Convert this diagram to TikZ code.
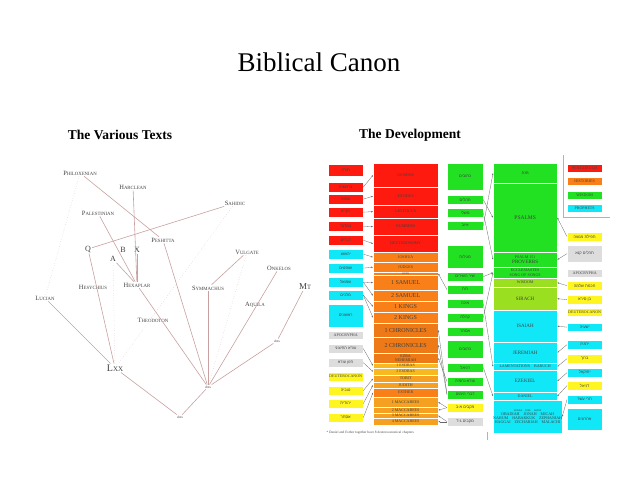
\documentclass[tikz,border=0pt]{standalone}
\usepackage{fontspec}
\setmainfont{Liberation Serif}
\newfontfamily\hefont[Script=Hebrew]{Liberation Sans}
\TeXXeTstate=1
\usetikzlibrary{arrows.meta}
\definecolor{pent}{HTML}{FF1A10}
\definecolor{hist}{HTML}{F98018}
\definecolor{histd}{HTML}{F5A020}
\definecolor{wis}{HTML}{22E022}
\definecolor{wisl}{HTML}{9BE020}
\definecolor{pro}{HTML}{10E8F8}
\definecolor{deu}{HTML}{FFF520}
\definecolor{apo}{HTML}{DDDDDD}
\definecolor{edge}{HTML}{C8A0A0}
\newcommand{\he}[1]{{\hefont\beginR #1\endR}}
\newcommand{\scn}[2]{{\fontsize{6.5}{6.5}\selectfont #1}{\fontsize{4.8}{4.8}\selectfont #2}}
\newcommand{\bx}[7]{\node[bk,fill=#5,minimum width={(#3-#1)*1pt},minimum height={(#4-#2)*1pt}] (#7) at (#1,#2) {#6};}
\tikzset{
  bk/.style={anchor=north west,inner sep=0pt,align=center,font=\fontsize{4}{4.2}\selectfont,text=black!75,draw=white,line width=0.3pt},
  ed/.style={edge,line width=0.6pt},
  ep/.style={edge!60,line width=0.5pt,dotted},
  ar/.style={-{Stealth[length=2pt]},black!60,line width=0.3pt},
  lb/.style={inner sep=1pt,text=black!75}
}
\begin{document}
\begin{tikzpicture}[x=1pt,y=-1pt]
  \useasboundingbox (0,0) rectangle (638,479);
  \node (title) at (319,62) {\fontsize{27}{27}\selectfont Biblical Canon};
  \node[font=\bfseries\fontsize{13.5}{14}\selectfont] (lh) at (120,135) {The Various Texts};
  \node[font=\bfseries\fontsize{13.5}{14}\selectfont] (rh) at (410,135) {The Development};
  % the various texts
  \node[lb] (phil) at (80,173) {\scn{P}{HILOXENIAN}};
  \node[lb] (harc) at (133,187) {\scn{H}{ARCLEAN}};
  \node[lb] (sahi) at (235,203) {\scn{S}{AHIDIC}};
  \node[lb] (pale) at (98,213) {\scn{P}{ALESTINIAN}};
  \node[lb] (pesh) at (163,240) {\scn{P}{ESHITTA}};
  \node[lb] (q) at (88,249) {\fontsize{8}{8}\selectfont Q};
  \node[lb] (b) at (123,250) {\fontsize{8}{8}\selectfont B};
  \node[lb] (x) at (137,250) {\fontsize{8}{8}\selectfont X};
  \node[lb] (a) at (113,259) {\fontsize{8}{8}\selectfont A};
  \node[lb] (hesy) at (93,287) {\scn{H}{ESYCHIUS}};
  \node[lb] (hexa) at (137,285) {\scn{H}{EXAPLAR}};
  \node[lb] (symm) at (208,288) {\scn{S}{YMMACHUS}};
  \node[lb] (vulg) at (247,252) {\scn{V}{ULGATE}};
  \node[lb] (onke) at (279,268) {\scn{O}{NKELOS}};
  \node[lb] (mt) at (305,287) {\fontsize{9}{9}\selectfont M{\fontsize{6.5}{6.5}\selectfont T}};
  \node[lb] (luci) at (45,298) {\scn{L}{UCIAN}};
  \node[lb] (aqui) at (255,305) {\scn{A}{QUILA}};
  \node[lb] (theo) at (153,320) {\scn{T}{HEODOTON}};
  \node[lb,font=\fontsize{3.5}{3.5}\selectfont] (dr) at (277,341) {dots};
  \node[lb] (lxx) at (115,368) {\fontsize{10}{10}\selectfont L{\fontsize{7}{7}\selectfont XX}};
  \node[lb,font=\fontsize{3.5}{3.5}\selectfont] (dm) at (208,387) {dots};
  \node[lb,font=\fontsize{3.5}{3.5}\selectfont] (db) at (180,417) {dots};
  \draw[ed] (phil) -- (pesh);
  \draw[ed] (harc) -- (hexa);
  \draw[ed] (pale) -- (hexa);
  \draw[ed] (sahi) -- (q);
  \draw[ed] (a) -- (hexa);
  \draw[ed] (x) -- (hexa);
  \draw[ed] (q) -- (lxx);
  \draw[ed] (luci) -- (lxx);
  \draw[ed] (hexa) -- (dm);
  \draw[ed] (pesh) -- (dm);
  \draw[ed] (symm) -- (dm);
  \draw[ed] (onke) -- (dm);
  \draw[ed] (dr) -- (dm);
  \draw[ed] (mt) -- (dr);
  \draw[ed] (vulg) -- (symm);
  \draw[ed] (lxx) -- (db);
  \draw[ed] (dm) -- (db);
  \draw[ep] (phil) -- (luci);
  \draw[ep] (sahi) -- (lxx);
  \draw[ep] (a) -- (lxx);
  \draw[ep] (vulg) -- (dm);
  % the development: greek books
  \bx{373}{163}{438}{187}{pent}{GENESIS}{gen}
  \bx{373}{187}{438}{205}{pent}{EXODUS}{exo}
  \bx{373}{205}{438}{218}{pent}{LEVITICUS}{lev}
  \bx{373}{218}{438}{235}{pent}{NUMBERS}{num}
  \bx{373}{235}{438}{252}{pent}{DEUTERONOMY}{deut}
  \bx{373}{252}{438}{262}{hist}{JOSHUA}{josh}
  \bx{373}{262}{438}{272}{hist}{JUDGES}{judg}
  \bx{373}{272}{438}{275}{hist}{\fontsize{2.5}{2.5}\selectfont RUTH}{ruth}
  \bx{373}{275}{438}{290}{hist}{\fontsize{6}{6}\selectfont 1 SAMUEL}{sam1}
  \bx{373}{290}{438}{301}{hist}{\fontsize{6}{6}\selectfont 2 SAMUEL}{sam2}
  \bx{373}{301}{438}{312}{hist}{\fontsize{6}{6}\selectfont 1 KINGS}{kgs1}
  \bx{373}{312}{438}{323}{hist}{\fontsize{6}{6}\selectfont 2 KINGS}{kgs2}
  \bx{373}{323}{438}{337}{hist!95!black}{\fontsize{6}{6}\selectfont 1 CHRONICLES}{chr1}
  \bx{373}{337}{438}{353}{hist!95!black}{\fontsize{6}{6}\selectfont 2 CHRONICLES}{chr2}
  \bx{373}{353}{438}{363}{hist!95!black}{EZRA\\NEHEMIAH}{ezra}
  \bx{373}{363}{438}{368}{histd!70!deu}{1 ESDRAS}{esd1}
  \bx{373}{368}{438}{375}{histd!70!deu}{2 ESDRAS}{esd2}
  \bx{373}{375}{438}{382}{histd}{TOBIT}{tob}
  \bx{373}{382}{438}{388}{histd}{JUDITH}{jdt}
  \bx{373}{388}{438}{397}{hist}{ESTHER}{esth}
  \bx{373}{397}{438}{407}{histd}{1 MACCABEES}{mac1}
  \bx{373}{407}{438}{413}{histd}{2 MACCABEES}{mac2}
  \bx{373}{413}{438}{418}{histd}{3 MACCABEES}{mac3}
  \bx{373}{418}{438}{425}{histd}{4 MACCABEES}{mac4}
  \bx{493}{163}{557}{183}{wis}{JOB}{job}
  \bx{493}{183}{557}{252}{wis}{\fontsize{5.5}{5.5}\selectfont PSALMS}{ps}
  \bx{493}{252}{557}{267}{wis}{PSALM 151\\{\fontsize{5}{5.5}\selectfont PROVERBS}}{prov}
  \bx{493}{267}{557}{278}{wis}{ECCLESIASTES\\SONG OF SONGS}{eccl}
  \bx{493}{278}{557}{287}{wisl}{WISDOM}{wisd}
  \bx{493}{287}{557}{310}{wisl}{\fontsize{5}{5}\selectfont SIRACH}{sir}
  \bx{493}{310}{557}{342}{pro}{\fontsize{5}{5}\selectfont ISAIAH}{isa}
  \bx{493}{342}{557}{363}{pro}{\fontsize{5}{5}\selectfont JEREMIAH}{jer}
  \bx{493}{363}{557}{370}{pro}{LAMENTATIONS\quad BARUCH}{lam}
  \bx{493}{370}{557}{392}{pro}{\fontsize{5}{5}\selectfont EZEKIEL}{ezek}
  \bx{493}{392}{557}{400}{pro}{DANIEL}{dan}
  \bx{493}{400}{557}{433}{pro}{\fontsize{2.6}{4}\selectfont HOSEA\quad JOEL\quad AMOS\\OBADIAH\quad JONAH\quad MICAH\\NAHUM\quad HABAKKUK\quad ZEPHANIAH\\HAGGAI\quad ZECHARIAH\quad MALACHI}{minor}
  % hebrew books, left
  \bx{328}{164}{363}{176}{pent}{\he{תורה}}{h1}
  \bx{328}{182}{363}{192}{pent}{\he{בראשית}}{h2}
  \bx{328}{194}{363}{204}{pent}{\he{שמות}}{h3}
  \bx{328}{207}{363}{217}{pent}{\he{ויקרא}}{h4}
  \bx{328}{221}{363}{231}{pent}{\he{במדבר}}{h5}
  \bx{328}{235}{363}{245}{pent}{\he{דברים}}{h6}
  \bx{328}{249}{363}{259}{pro}{\he{יהושע}}{h7}
  \bx{328}{263}{363}{273}{pro}{\he{שופטים}}{h8}
  \bx{328}{277}{363}{287}{pro}{\he{שמואל}}{h9}
  \bx{328}{290}{363}{300}{pro}{\he{מלכים}}{h10}
  \bx{328}{304}{363}{327}{pro}{\he{ראשונים}}{h11}
  \bx{328}{331}{363}{339}{apo}{APOCRYPHA}{h12}
  \bx{328}{344}{363}{353}{apo}{\he{עזרא החיצוני}}{h13}
  \bx{328}{358}{363}{367}{apo}{\he{חזון עזרא}}{h14}
  \bx{328}{372}{363}{381}{deu}{DEUTEROCANON}{h15}
  \bx{328}{386}{363}{395}{deu}{\he{טוביה}}{h16}
  \bx{328}{399}{363}{408}{deu}{\he{יהודית}}{h17}
  \bx{328}{413}{363}{422}{deu}{\he{אסתר}}{h18}
  % hebrew books, middle
  \bx{447}{163}{483}{190}{wis}{\he{כתובים}}{k1}
  \bx{447}{195}{483}{204}{wis}{\he{תהלים}}{k2}
  \bx{447}{208}{483}{217}{wis}{\he{משלי}}{k3}
  \bx{447}{221}{483}{230}{wis}{\he{איוב}}{k4}
  \bx{447}{245}{483}{268}{wis}{\he{מגילות}}{k5}
  \bx{447}{272}{483}{281}{wis}{\he{שיר השירים}}{k6}
  \bx{447}{285}{483}{294}{wis}{\he{רות}}{k7}
  \bx{447}{299}{483}{308}{wis}{\he{איכה}}{k8}
  \bx{447}{313}{483}{322}{wis}{\he{קהלת}}{k9}
  \bx{447}{327}{483}{336}{wis}{\he{אסתר}}{k10}
  \bx{447}{340}{483}{358}{wis}{\he{כתובים}}{k11}
  \bx{447}{363}{483}{372}{wis}{\he{דניאל}}{k12}
  \bx{447}{377}{483}{386}{wis}{\he{עזרא-נחמיה}}{k13}
  \bx{447}{390}{483}{399}{wis}{\he{דברי הימים}}{k14}
  \bx{447}{403}{483}{412}{deu}{\he{מקבים א-ב}}{k15}
  \bx{447}{417}{483}{426}{apo}{\he{מקבים ג-ד}}{k16}
  % hebrew books, right
  \bx{567}{232}{602}{241}{deu}{\he{תפילת מנשה}}{r1}
  \bx{567}{245}{602}{262}{apo}{\he{תהלים קנא}}{r2}
  \bx{567}{269}{602}{277}{apo}{APOCRYPHA}{r3}
  \bx{567}{281}{602}{290}{deu}{\he{חכמת שלמה}}{r4}
  \bx{567}{295}{602}{304}{deu}{\he{בן סירא}}{r5}
  \bx{567}{308}{602}{316}{deu}{DEUTEROCANON}{r6}
  \bx{567}{323}{602}{331}{pro}{\he{ישעיה}}{r7}
  \bx{567}{340}{602}{349}{pro}{\he{ירמיה}}{r8}
  \bx{567}{354}{602}{363}{deu}{\he{ברוך}}{r9}
  \bx{567}{368}{602}{377}{pro}{\he{יחזקאל}}{r10}
  \bx{567}{381}{602}{390}{deu}{\he{דניאל}}{r11}
  \bx{567}{395}{602}{404}{pro}{\he{תרי עשר}}{r12}
  \bx{567}{408}{602}{430}{pro}{\he{אחרונים}}{r13}
  % legend
  \draw[black!30,line width=0.4pt] (563,155) -- (563,217) -- (610,217);
  \bx{567}{164}{602}{172}{pent}{PENTATEUCH}{l1}
  \bx{567}{177}{602}{185}{hist}{HISTORIES}{l2}
  \bx{567}{191}{602}{199}{wis}{WISDOM}{l3}
  \bx{567}{204}{602}{212}{pro}{PROPHETS}{l4}
  \node[anchor=west,font=\fontsize{3.5}{3.5}\selectfont,text=black!70] (note) at (323,433) {* Daniel and Esther together have 8 deuterocanonical chapters};
  \draw[black!30,line width=0.4pt] (487,432) -- (487,440);
  % connectors
  \foreach \f/\t in {h2/gen,h3/exo,h4/lev,h5/num,h6/deut,h7/josh,h8/judg,h9/sam1,h9/sam2,h10/kgs1,h10/kgs2,h13/esd1,h14/esd2,h16/tob,h17/jdt,h18/esth}
    \draw[ar] (\f.east) -- (\t.west);
  \foreach \f/\t in {k7/ruth,k14/chr1,k14/chr2,k13/ezra,k15/mac1,k15/mac2,k16/mac3,k16/mac4}
    \draw[ar] (\f.west) -- (\t.east);
  \foreach \f/\t in {k2/ps,k3/prov,k4/job,k6/eccl,k8/lam,k9/eccl,k12/dan}
    \draw[ar] (\f.east) -- (\t.west);
  \foreach \f/\t in {r1/ps,r2/prov,r4/wisd,r5/sir,r7/isa,r8/jer,r9/lam,r10/ezek,r11/dan,r12/minor}
    \draw[ar] (\f.west) -- (\t.east);
\end{tikzpicture}
\end{document}
